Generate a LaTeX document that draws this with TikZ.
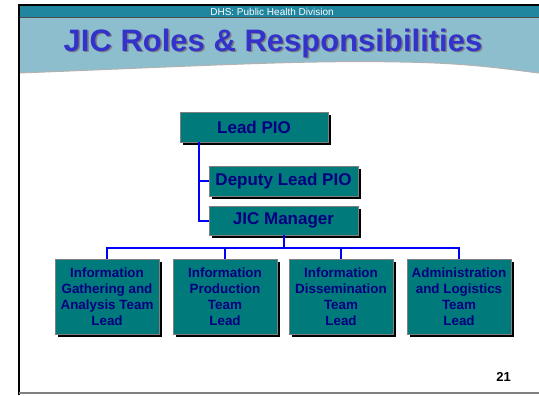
\documentclass[tikz,border=0pt]{standalone}
\usepackage{fontspec}
\setmainfont{Liberation Sans}
\usetikzlibrary{shadows}

\definecolor{hdrteal}{RGB}{32,134,160}
\definecolor{hdrblue}{RGB}{140,190,206}
\definecolor{titleblue}{RGB}{51,51,204}
\definecolor{boxteal}{RGB}{0,122,122}
\definecolor{boxtext}{RGB}{0,0,128}

\tikzset{
	rolebox/.style = {draw = gray, line width = 0.8bp, fill = boxteal, inner sep = 0pt,
		text = boxtext, font = \bfseries\fontsize{17bp}{20bp}\selectfont,
		drop shadow = {shadow xshift = 3bp, shadow yshift = -3bp, fill = black, opacity = 1}},
	teambox/.style = {rolebox, minimum width = 104bp, minimum height = 75bp, align = center,
		font = \bfseries\fontsize{13.4bp}{16bp}\selectfont},
	conn/.style = {draw = blue, line width = 2bp}
}

\begin{document}
\begin{tikzpicture}[x = 1bp, y = -1bp]
	\useasboundingbox (0,0) rectangle (539,395);

	% header
	\fill[hdrblue] (19,17) -- (539,17) -- (539,73) .. controls (505,69) and (470,63) .. (400,62)
		.. controls (300,60) and (200,66) .. (19,73) -- cycle;
	\draw[gray!60, line width = 1bp] (19,73) .. controls (200,66) and (300,60) .. (400,62)
		.. controls (470,63) and (505,69) .. (539,73);
	\fill[hdrteal] (19,5) rectangle (539,17);
	\draw[black!70, line width = 1bp] (19,17.5) -- (539,17.5);
	\draw[black, line width = 2bp] (19,395) -- (19,5) -- (539,5);
	\draw[gray, line width = 1.5bp] (19,393) -- (539,393);
	\node[text = white, font = \fontsize{10bp}{12bp}\selectfont] (dhs) at (272,11.5) {DHS: Public Health Division};
	\node[text = gray, font = \bfseries\fontsize{31bp}{36bp}\selectfont] (titleshadow) at (274.5,44.5) {JIC Roles \& Responsibilities};
	\node[text = titleblue, font = \bfseries\fontsize{31bp}{36bp}\selectfont] (title) at (273,43) {JIC Roles \& Responsibilities};

	% chart
	\node[rolebox, minimum width = 148bp, minimum height = 30bp] (lead) at (254,127) {Lead PIO};
	\node[rolebox, minimum width = 149bp, minimum height = 30bp] (deputy) at (283.5,181) {Deputy Lead PIO};
	\node[rolebox, minimum width = 149bp, minimum height = 29bp] (manager) at (283.5,220.5) {JIC Manager};

	\node[teambox] (gather)  at (107,296.5) {Information\\Gathering and\\Analysis Team\\Lead};
	\node[teambox] (produce) at (225,296.5) {Information\\Production\\Team\\Lead};
	\node[teambox] (dissem)  at (341,296.5) {Information\\Dissemination\\Team\\Lead};
	\node[teambox] (admin)   at (459,296.5) {Administration\\and Logistics\\Team\\Lead};

	\draw[conn] ([xshift = 19bp]lead.south west) |- (deputy.west);
	\draw[conn] ([xshift = 19bp]lead.south west) |- (manager.west);
	\foreach \t in {gather, produce, dissem, admin}
		{\draw[conn] (manager.south) -- ++(0,13) -| (\t.north);}

	\node[font = \bfseries\fontsize{13bp}{15bp}\selectfont] (page) at (503.5,377) {21};

\end{tikzpicture}
\end{document}
